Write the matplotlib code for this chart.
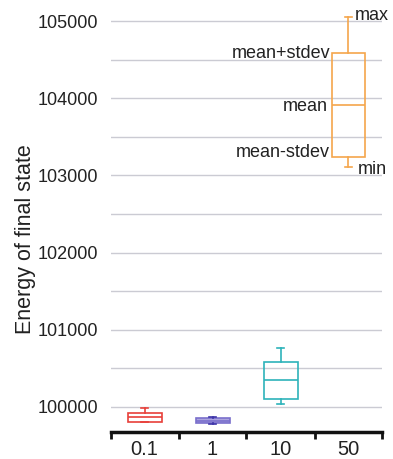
import matplotlib
matplotlib.use("Agg")
import matplotlib.pyplot as plt
from matplotlib.ticker import MultipleLocator, FixedLocator

plt.rcParams['font.family'] = ['Liberation Sans', 'DejaVu Sans']

categories = ["0.1", "1", "10", "50"]
mins = [99805, 99776, 100039, 103113]
lowers = [99810, 99793, 100100, 103242]
means = [99866, 99823, 100350, 103912]
uppers = [99918, 99854, 100587, 104582]
maxs = [99990, 99866, 100760, 105050]
edge_colors = ["#e8403a", "#7a70cc", "#2db3ba", "#f5a64c"]
line_colors = ["#e8403a", "#3d33a8", "#2db3ba", "#f5a64c"]
face_colors = ["none", "#aca4de", "none", "none"]
yticks = [100000, 101000, 102000, 103000, 104000, 105000]

fig = plt.figure(figsize=(3.93, 4.59), dpi=100)
ax = fig.add_axes([110.5/393, 27/459, 272/393, 422/459])

stats = []
for i in range(len(categories)):
    stats.append(dict(med=means[i], q1=lowers[i], q3=uppers[i],
                      whislo=mins[i], whishi=maxs[i], fliers=[], label=categories[i]))

pos = list(range(len(categories)))
for i, s in enumerate(stats):
    ax.bxp([s], positions=[pos[i]], widths=0.5, capwidths=0.11, patch_artist=True,
           showfliers=False,
           boxprops=dict(facecolor=face_colors[i], edgecolor=edge_colors[i], linewidth=1.2),
           medianprops=dict(color=edge_colors[i], linewidth=1.2),
           whiskerprops=dict(color=line_colors[i], linewidth=1.2),
           capprops=dict(color=line_colors[i], linewidth=1.2),
           zorder=3)

ax.set_xlim(-0.5, len(categories) - 0.5)
ax.set_ylim(99676, 105143)

ax.yaxis.set_major_locator(FixedLocator(yticks))
ax.yaxis.set_minor_locator(MultipleLocator(500))
ax.set_yticklabels([str(v) for v in yticks])
ax.grid(True, axis='y', which='both', color='#cbcbd3', linewidth=1.0, zorder=0)
ax.tick_params(axis='y', which='both', length=0, pad=9, labelsize=13, labelcolor='#222222')

ax.set_xticks(pos)
ax.set_xticklabels(categories)
ax.xaxis.set_minor_locator(FixedLocator([p - 0.5 for p in pos] + [pos[-1] + 0.5]))
ax.tick_params(axis='x', which='major', length=0, pad=6, labelsize=14.5, labelcolor='#222222')
ax.tick_params(axis='x', which='minor', length=5, width=2, color='#111111', direction='out')

for sp in ['left', 'right', 'top']:
    ax.spines[sp].set_visible(False)
ax.spines['bottom'].set_linewidth(2.5)
ax.spines['bottom'].set_color('#111111')

# annotations for the last box
j = len(categories) - 1
left_edge = pos[j] - 0.25
kw = dict(fontsize=13, color='#222222', va='center')
ax.annotate("mean+stdev", (left_edge, uppers[j]), xytext=(-1, 0), textcoords='offset pixels', ha='right', **kw)
ax.annotate("mean", (left_edge, means[j]), xytext=(-4, -1), textcoords='offset pixels', ha='right', **kw)
ax.annotate("mean-stdev", (left_edge, lowers[j]), xytext=(-2, 4), textcoords='offset pixels', ha='right', **kw)
ax.annotate("max", (pos[j] + 0.1, maxs[j]), xytext=(-1, 2), textcoords='offset pixels', ha='left', **kw)
ax.annotate("min", (pos[j] + 0.13, mins[j]), xytext=(0, -3), textcoords='offset pixels', ha='left', **kw)

fig.text(25.5/393, 1 - 239/459, "Energy of final state", rotation=90, ha='center', va='center',
         fontsize=15.5, color='#222222')

fig.savefig("out.png", dpi=100)
